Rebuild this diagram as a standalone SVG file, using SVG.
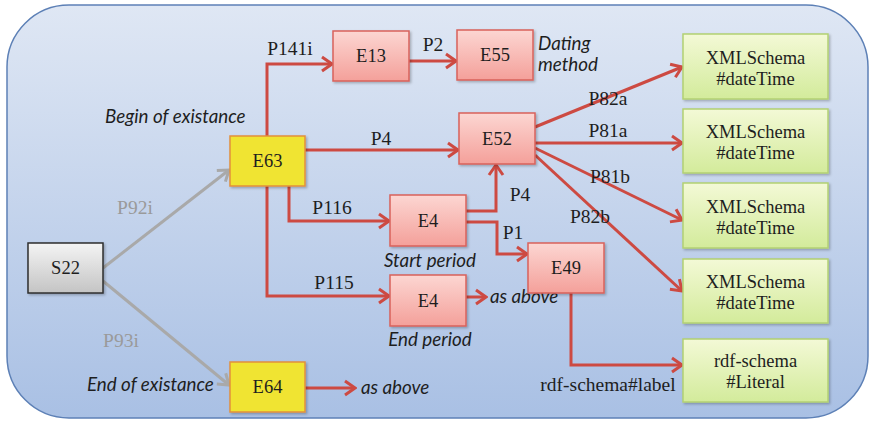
<svg xmlns="http://www.w3.org/2000/svg" width="871" height="422" viewBox="0 0 871 422">
  <defs>
    <linearGradient id="bg" x1="0" y1="0" x2="0" y2="1">
      <stop offset="0" stop-color="#dfe7f4"/>
      <stop offset="1" stop-color="#a9c0e4"/>
    </linearGradient>
    <linearGradient id="red" x1="0" y1="0" x2="0" y2="1">
      <stop offset="0" stop-color="#fcd6d2"/>
      <stop offset="1" stop-color="#f4a09a"/>
    </linearGradient>
    <linearGradient id="green" x1="0" y1="0" x2="0" y2="1">
      <stop offset="0" stop-color="#f3f9d6"/>
      <stop offset="1" stop-color="#d3eb9b"/>
    </linearGradient>
    <linearGradient id="gray" x1="0" y1="0" x2="0" y2="1">
      <stop offset="0" stop-color="#f4f4f4"/>
      <stop offset="1" stop-color="#c4c4c4"/>
    </linearGradient>
    <filter id="sh" x="-10%" y="-10%" width="130%" height="130%">
      <feDropShadow dx="1.5" dy="1.5" stdDeviation="1.2" flood-color="#000" flood-opacity="0.25"/>
    </filter>
    <marker id="ar" viewBox="0 0 14 18" refX="12" refY="9" markerWidth="14" markerHeight="18" orient="auto" markerUnits="userSpaceOnUse">
      <path d="M2,2 L12,9 L2,16" fill="none" stroke="#cd4a42" stroke-width="3"/>
    </marker>
    <marker id="ag" viewBox="0 0 14 18" refX="12" refY="9" markerWidth="14" markerHeight="18" orient="auto" markerUnits="userSpaceOnUse">
      <path d="M2,2 L12,9 L2,16" fill="none" stroke="#a9a9a9" stroke-width="3"/>
    </marker>
  </defs>
  <style>
    .rbox { fill: url(#red); stroke: #d9625b; stroke-width: 1.5; filter: url(#sh); }
    .ybox { fill: #f0e432; stroke: #e2903c; stroke-width: 1.5; filter: url(#sh); }
    .gbox { fill: url(#green); stroke: #b3d173; stroke-width: 1.5; filter: url(#sh); }
    .sbox { fill: url(#gray); stroke: #2e2e2e; stroke-width: 1.5; filter: url(#sh); }
    .lbl { font-family: "Liberation Serif", "DejaVu Serif", serif; font-size: 18.5px; fill: #1e1e1e; text-anchor: middle; }
    .edge { font-family: "Liberation Serif", "DejaVu Serif", serif; font-size: 19.5px; fill: #1e1e1e; text-anchor: middle; }
    .gedge { font-family: "Liberation Serif", "DejaVu Serif", serif; font-size: 19.5px; fill: #9a9a9a; text-anchor: middle; }
    .note { font-family: Lato, "Liberation Sans", sans-serif; font-style: italic; font-size: 18.8px; fill: #1e1e1e; }
    .rl { fill: none; stroke: #cd4a42; stroke-width: 3; marker-end: url(#ar); }
    .gl { fill: none; stroke: #a9a9a9; stroke-width: 3; marker-end: url(#ag); }
  </style>

  <!-- outer panel -->
  <rect x="7" y="5" width="861" height="413" rx="62" ry="62" fill="url(#bg)" stroke="#5d80b6" stroke-width="1.5"/>

  <!-- connectors -->
  <g id="connectors">
    <line class="gl" x1="103" y1="268" x2="229" y2="170"/>
    <line class="gl" x1="103" y1="281" x2="229" y2="385"/>
    <polyline class="rl" points="267,136 267,64 332,64"/>
    <line class="rl" x1="409" y1="61" x2="456" y2="61"/>
    <line class="rl" x1="305" y1="150" x2="458" y2="150"/>
    <polyline class="rl" points="289,186 289,221 389,221"/>
    <polyline class="rl" points="267,186 267,296 389,296"/>
    <polyline class="rl" points="466,211 496,211 496,165"/>
    <polyline class="rl" points="466,222 497,222 497,254 527,254"/>
    <line class="rl" x1="466" y1="297" x2="486" y2="297"/>
    <line class="rl" x1="305" y1="388" x2="355" y2="388"/>
    <line class="rl" x1="535" y1="127" x2="682" y2="67"/>
    <line class="rl" x1="535" y1="143" x2="682" y2="143"/>
    <line class="rl" x1="535" y1="148" x2="682" y2="220"/>
    <line class="rl" x1="535" y1="155" x2="682" y2="291"/>
    <polyline class="rl" points="571,293 571,365 682,365"/>
  </g>

  <!-- connector labels -->
  <g id="edge-labels">
    <text class="gedge" x="135" y="214">P92i</text>
    <text class="gedge" x="121" y="347">P93i</text>
    <text class="edge" x="290" y="55">P141i</text>
    <text class="edge" x="433" y="51">P2</text>
    <text class="edge" x="381" y="145">P4</text>
    <text class="edge" x="332" y="214">P116</text>
    <text class="edge" x="334" y="289">P115</text>
    <text class="edge" x="520" y="201">P4</text>
    <text class="edge" x="513" y="239">P1</text>
    <text class="edge" x="608" y="105">P82a</text>
    <text class="edge" x="608" y="137">P81a</text>
    <text class="edge" x="610" y="183">P81b</text>
    <text class="edge" x="590" y="223">P82b</text>
    <text class="edge" x="608" y="391">rdf-schema#label</text>
  </g>

  <!-- annotations -->
  <g id="notes">
    <text class="note" x="105" y="123">Begin of existance</text>
    <text class="note" x="87" y="391">End of existance</text>
    <text class="note" x="538" y="50">Dating</text>
    <text class="note" x="538" y="71">method</text>
    <text class="note" x="430" y="267" text-anchor="middle">Start period</text>
    <text class="note" x="430" y="346" text-anchor="middle">End period</text>
    <text class="note" x="490" y="303">as above</text>
    <text class="note" x="361" y="394">as above</text>
  </g>

  <!-- nodes -->
  <g id="S22"><rect class="sbox" x="28" y="243" width="75" height="50"/><text class="lbl" x="65.5" y="274">S22</text></g>
  <g id="E63"><rect class="ybox" x="230" y="136" width="75" height="50"/><text class="lbl" x="267.5" y="167">E63</text></g>
  <g id="E64"><rect class="ybox" x="230" y="362" width="75" height="50"/><text class="lbl" x="267.5" y="393">E64</text></g>
  <g id="E13"><rect class="rbox" x="333" y="31" width="76" height="50"/><text class="lbl" x="371" y="62">E13</text></g>
  <g id="E55"><rect class="rbox" x="457" y="30" width="76" height="50"/><text class="lbl" x="495" y="61">E55</text></g>
  <g id="E52"><rect class="rbox" x="459" y="113" width="76" height="51"/><text class="lbl" x="497" y="145">E52</text></g>
  <g id="E4-start"><rect class="rbox" x="390" y="195" width="76" height="51"/><text class="lbl" x="428" y="227">E4</text></g>
  <g id="E4-end"><rect class="rbox" x="390" y="275" width="76" height="51"/><text class="lbl" x="428" y="307">E4</text></g>
  <g id="E49"><rect class="rbox" x="528" y="243" width="76" height="50"/><text class="lbl" x="566" y="274">E49</text></g>
  <g id="xsd-1"><rect class="gbox" x="683" y="34" width="145" height="65"/><text class="lbl" x="755.5" y="64">XMLSchema</text><text class="lbl" x="755.5" y="85">#dateTime</text></g>
  <g id="xsd-2"><rect class="gbox" x="683" y="109" width="145" height="64"/><text class="lbl" x="755.5" y="138">XMLSchema</text><text class="lbl" x="755.5" y="159">#dateTime</text></g>
  <g id="xsd-3"><rect class="gbox" x="683" y="183" width="145" height="65"/><text class="lbl" x="755.5" y="213">XMLSchema</text><text class="lbl" x="755.5" y="234">#dateTime</text></g>
  <g id="xsd-4"><rect class="gbox" x="683" y="259" width="145" height="64"/><text class="lbl" x="755.5" y="288">XMLSchema</text><text class="lbl" x="755.5" y="309">#dateTime</text></g>
  <g id="rdfs-literal"><rect class="gbox" x="683" y="339" width="145" height="63"/><text class="lbl" x="755.5" y="367">rdf-schema</text><text class="lbl" x="755.5" y="388">#Literal</text></g>
</svg>
